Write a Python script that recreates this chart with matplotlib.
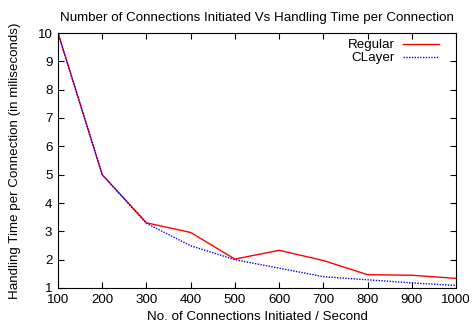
import matplotlib
matplotlib.use("Agg")
import matplotlib.pyplot as plt

# connections per second
connections = [100, 200, 300, 400, 500, 600, 700, 800, 900, 1000]
regular = [10, 5, 3.3, 2.96, 2.02, 2.33, 1.97, 1.47, 1.45, 1.34]
clayer = [10, 5, 3.28, 2.49, 2.0, 1.7, 1.4, 1.29, 1.18, 1.09]

plt.rcParams["font.family"] = ["Liberation Sans", "DejaVu Sans"]
plt.rcParams["font.size"] = 9.6

fig = plt.figure(figsize=(4.74, 3.31), dpi=100)
ax = fig.add_axes([58 / 474, 1 - 288 / 331, (456 - 58) / 474, (288 - 33) / 331])

ax.plot(connections, regular, color="#ff0000", lw=1.0, label="Regular")
ax.plot(connections, clayer, color="#0000ff", lw=1.0, ls=(0, (1, 1)), label="CLayer")

ax.set_xlim(100, 1000)
ax.set_ylim(1, 10)
ax.set_xticks(connections)
ax.set_yticks(range(1, 11))
ax.tick_params(direction="in", top=True, right=True, length=4, width=0.8, pad=4)
for s in ax.spines.values():
    s.set_linewidth(0.8)

ax.set_title("Number of Connections Initiated Vs Handling Time per Connection",
             fontsize=9.6, pad=9)
ax.set_xlabel("No. of Connections Initiated / Second", labelpad=4)
ax.set_ylabel("Handling Time per Connection (in miliseconds)", labelpad=12)

ax.legend(loc="upper right", bbox_to_anchor=(0.971, 0.997), frameon=False,
          markerfirst=False, handlelength=2.7, handletextpad=0.6,
          labelspacing=0.05, borderaxespad=0.0)

fig.savefig("out.png", dpi=100)
